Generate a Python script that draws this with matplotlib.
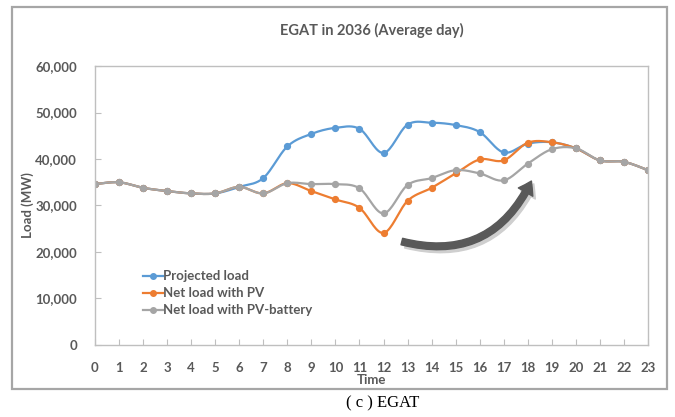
import matplotlib
matplotlib.use("Agg")
import matplotlib.pyplot as plt
import numpy as np
from matplotlib.patches import Rectangle, FancyArrowPatch
from matplotlib.ticker import FuncFormatter

hours = list(range(24))
projected = [34600, 35000, 33800, 33100, 32600, 32600, 34000, 35900, 42700, 45400,
             46700, 46500, 41300, 47400, 47800, 47300, 45800, 41400, 43300, 43600,
             42300, 39700, 39400, 37600]
net_pv = [34600, 35000, 33800, 33100, 32600, 32600, 34000, 32600, 34800, 33100,
          31300, 29500, 24100, 31000, 33800, 36900, 39900, 39700, 43500, 43600,
          42300, 39700, 39400, 37600]
net_pv_batt = [34600, 35000, 33800, 33100, 32600, 32600, 34000, 32600, 34800, 34600,
               34600, 33700, 28300, 34400, 35900, 37600, 36900, 35400, 39000, 42100,
               42300, 39700, 39400, 37600]

names = ["Projected load", "Net load with PV", "Net load with PV-battery"]
colors = ["#5B9BD5", "#ED7D31", "#A5A5A5"]
txt = "#595959"


def smooth(x, y, n=20):
    # Excel style smoothed line: cubic bezier through the points
    x = np.asarray(x, float)
    y = np.asarray(y, float)
    px = np.concatenate([[x[0]], x, [x[-1]]])
    py = np.concatenate([[y[0]], y, [y[-1]]])
    xs, ys = [], []
    t = np.linspace(0, 1, n)
    for i in range(len(x) - 1):
        p0 = np.array([px[i + 1], py[i + 1]])
        p3 = np.array([px[i + 2], py[i + 2]])
        c1 = p0 + (p3 - np.array([px[i], py[i]])) / 6
        c2 = p3 - (np.array([px[i + 3], py[i + 3]]) - p0) / 6
        b = ((1 - t) ** 3)[:, None] * p0 + (3 * (1 - t) ** 2 * t)[:, None] * c1 \
            + (3 * (1 - t) * t ** 2)[:, None] * c2 + (t ** 3)[:, None] * p3
        xs.extend(b[:, 0])
        ys.extend(b[:, 1])
    return xs, ys


plt.rcParams['font.family'] = ['Lato', 'DejaVu Sans']

fig = plt.figure(figsize=(6.75, 4.17), dpi=100)
fig.patches.append(Rectangle((0.018, 0.067), 0.970, 0.916, transform=fig.transFigure,
                             fill=False, edgecolor="#A6A6A6", linewidth=1.6))
ax = fig.add_axes([0.1407, 0.1727, 0.8193, 0.669])

for vals, name, c in zip([projected, net_pv, net_pv_batt], names, colors):
    sx, sy = smooth(hours, vals)
    ax.plot(sx, sy, color=c, linewidth=1.6, solid_capstyle="round")
    ax.plot(hours, vals, linestyle="none", marker="o", markersize=4.2, color=c)
    ax.plot([], [], color=c, linewidth=1.6, marker="o", markersize=4, label=name)

ax.set_xlim(0, 23)
ax.set_ylim(0, 60000)
ax.set_xticks(hours)
ax.set_yticks(range(0, 60001, 10000))
ax.yaxis.set_major_formatter(FuncFormatter(lambda v, p: f"{int(v):,}"))
for s in ax.spines.values():
    s.set_color("#BFBFBF")
    s.set_linewidth(1.0)
ax.tick_params(direction="in", length=4, color="#BFBFBF", labelcolor=txt, labelsize=9.5)
ax.tick_params(axis="x", pad=12)
ax.tick_params(axis="y", pad=13)
for lab in ax.get_xticklabels() + ax.get_yticklabels():
    lab.set_fontweight("bold")

ax.set_xlabel("Time", color=txt, fontsize=9.5, fontweight="bold", labelpad=0)
ax.set_ylabel("Load (MW)", color=txt, fontsize=9.5, fontweight="bold", labelpad=1)
ax.set_title("EGAT in 2036 (Average day)", color=txt, fontsize=10.5, fontweight="bold", pad=22)

leg = ax.legend(loc="upper left", bbox_to_anchor=(0.065, 0.31), frameon=False,
                handlelength=1.5, handletextpad=0.05, labelspacing=0.38,
                prop={"size": 9.5, "weight": "bold"})
for t in leg.get_texts():
    t.set_color(txt)

# curved arrow (shadow + arrow)
style = "simple,head_length=0.6,head_width=0.8,tail_width=0.32"
shadow = FancyArrowPatch((12.8, 21700), (18.3, 35200), connectionstyle="arc3,rad=0.42",
                         arrowstyle=style, mutation_scale=15, color="#CFCFCF", zorder=4)
ax.add_patch(shadow)
arrow = FancyArrowPatch((12.65, 22400), (18.2, 35800), connectionstyle="arc3,rad=0.42",
                        arrowstyle=style, mutation_scale=15, color="#595959", zorder=5)
ax.add_patch(arrow)

fig.text(0.567, 0.033, "( c ) EGAT", ha="center", va="center", fontsize=12,
         family="Liberation Serif")

fig.savefig("out.png", dpi=100)
